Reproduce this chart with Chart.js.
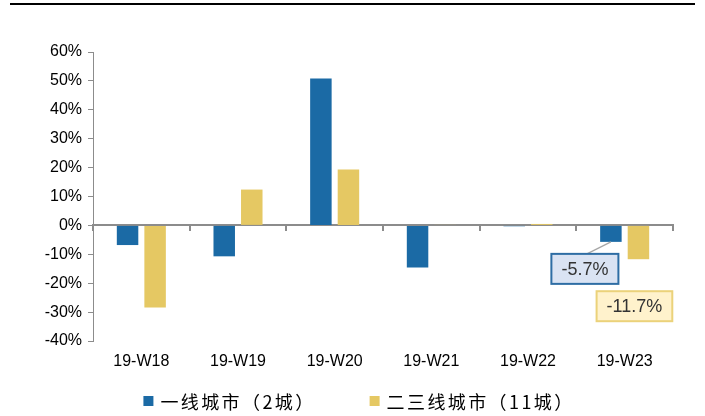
<!DOCTYPE html>
<html>
<head>
<meta charset="utf-8">
<script src="https://cdn.jsdelivr.net/npm/chart.js@4/dist/chart.umd.min.js"></script>
<style>
  html, body { margin: 0; padding: 0; background: #fff; }
  #wrap { position: relative; width: 705px; height: 416px; }
  canvas { display: block; }
</style>
</head>
<body>
<div id="wrap"><canvas id="c" width="705" height="416"></canvas></div>
<script>
// Weekly change, by city tier
const weeks = ['19-W18', '19-W19', '19-W20', '19-W21', '19-W22', '19-W23'];
const tier1 = [-6.8, -10.7, 50.8, -14.6, -0.3, -5.7];
const tier23 = [-28.4, 12.4, 19.3, 0.2, 0.5, -11.7];
const seriesNames = ['一线城市（2城）', '二三线城市（11城）'];
const yTicks = { min: -40, max: 60, step: 10 };

const BLUE = '#1b6aa5';
const GOLD = '#e5c863';
const AXIS = '#8c8c8c';
const LATIN = '"Liberation Sans", Arial, sans-serif';
const CJK = '"Noto Sans CJK SC", sans-serif';

// Black rule across the top of the figure
const topRule = {
  id: 'topRule',
  afterDraw(chart) {
    const ctx = chart.ctx;
    ctx.save();
    ctx.strokeStyle = '#000';
    ctx.lineWidth = 2;
    ctx.beginPath();
    ctx.moveTo(10, 4);
    ctx.lineTo(695, 4);
    ctx.stroke();
    ctx.restore();
  }
};

// Series key along the bottom edge, built from the dataset list
const bottomKey = {
  id: 'bottomKey',
  afterDraw(chart) {
    const ctx = chart.ctx;
    const box = 10, gapBox = 7, gapItem = 54;
    const y = chart.height - 15;
    ctx.save();
    ctx.font = '18px ' + CJK;
    ctx.letterSpacing = '2.4px';
    ctx.textBaseline = 'middle';
    const items = chart.data.datasets.map(ds => ({
      color: ds.backgroundColor,
      text: ds.label,
      w: ctx.measureText(ds.label).width
    }));
    const total = items.reduce((a, it) => a + box + gapBox + it.w, 0) + gapItem * (items.length - 1);
    let x = (chart.chartArea.left + chart.chartArea.right) / 2 - 24 - total / 2;
    items.forEach(it => {
      ctx.fillStyle = it.color;
      ctx.fillRect(x, y - box / 2, box, box);
      x += box + gapBox;
      ctx.fillStyle = '#000';
      ctx.textAlign = 'left';
      ctx.fillText(it.text, x, y + 1);
      x += it.w + gapItem;
    });
    ctx.restore();
  }
};

// Boxed value callouts for the latest week
const callouts = {
  id: 'callouts',
  afterDatasetsDraw(chart) {
    const ctx = chart.ctx;
    const last = weeks.length - 1;
    const specs = [
      { ds: 0, value: tier1[last], dx: -26, dy: 27, fill: '#dae3f3', stroke: '#2e6da4', leader: true },
      { ds: 1, value: tier23[last], dx: -4, dy: 47, fill: '#fff2cc', stroke: '#ebd27a', leader: false }
    ];
    ctx.save();
    ctx.font = '18px ' + LATIN;
    ctx.textAlign = 'center';
    ctx.textBaseline = 'middle';
    specs.forEach(s => {
      const bar = chart.getDatasetMeta(s.ds).data[last];
      const text = s.value.toFixed(1) + '%';
      const cx = bar.x + s.dx;
      const cy = bar.y + s.dy;
      const w = ctx.measureText(text).width + 20;
      const h = 30;
      if (s.leader) {
        ctx.strokeStyle = '#a6a6a6';
        ctx.lineWidth = 1.2;
        ctx.beginPath();
        ctx.moveTo(bar.x, bar.y);
        ctx.lineTo(cx + 2, cy - h / 2);
        ctx.stroke();
      }
      ctx.fillStyle = s.fill;
      ctx.strokeStyle = s.stroke;
      ctx.lineWidth = 2;
      ctx.fillRect(cx - w / 2, cy - h / 2, w, h);
      ctx.strokeRect(cx - w / 2, cy - h / 2, w, h);
      ctx.fillStyle = '#333';
      ctx.fillText(text, cx, cy + 1);
    });
    ctx.restore();
  }
};

new Chart(document.getElementById('c'), {
  type: 'bar',
  data: {
    labels: weeks,
    datasets: [
      { label: seriesNames[0], data: tier1, backgroundColor: BLUE, borderWidth: 0 },
      { label: seriesNames[1], data: tier23, backgroundColor: GOLD, borderWidth: 0 }
    ]
  },
  options: {
    responsive: false,
    animation: false,
    devicePixelRatio: 1,
    categoryPercentage: 0.57,
    barPercentage: 0.78,
    layout: { padding: { left: 0, right: 32, top: 52, bottom: 43 } },
    plugins: {
      tooltip: { enabled: false },
      legend: { display: false }
    },
    scales: {
      x: {
        position: 'bottom',
        grid: { display: false },
        border: { display: false },
        ticks: { color: '#000', padding: 3, font: { family: LATIN, size: 16 } },
        afterFit(s) { s.height = 32; }
      },
      xZero: {
        type: 'category',
        position: { y: 0 },
        offset: true,
        grid: { drawOnChartArea: false, drawTicks: true, tickLength: 5, offset: true, color: AXIS, lineWidth: 2 },
        border: { display: true, color: AXIS, width: 2 },
        ticks: { display: false }
      },
      y: {
        min: yTicks.min,
        max: yTicks.max,
        ticks: {
          stepSize: yTicks.step,
          color: '#000',
          padding: 6,
          font: { family: LATIN, size: 16 },
          callback: v => v + '%'
        },
        grid: { drawOnChartArea: false, drawTicks: true, tickLength: 5, color: AXIS },
        border: { display: true, color: AXIS, width: 1 },
        afterFit(s) { s.width = 93; }
      }
    }
  },
  plugins: [topRule, bottomKey, callouts]
});
</script>
</body>
</html>
